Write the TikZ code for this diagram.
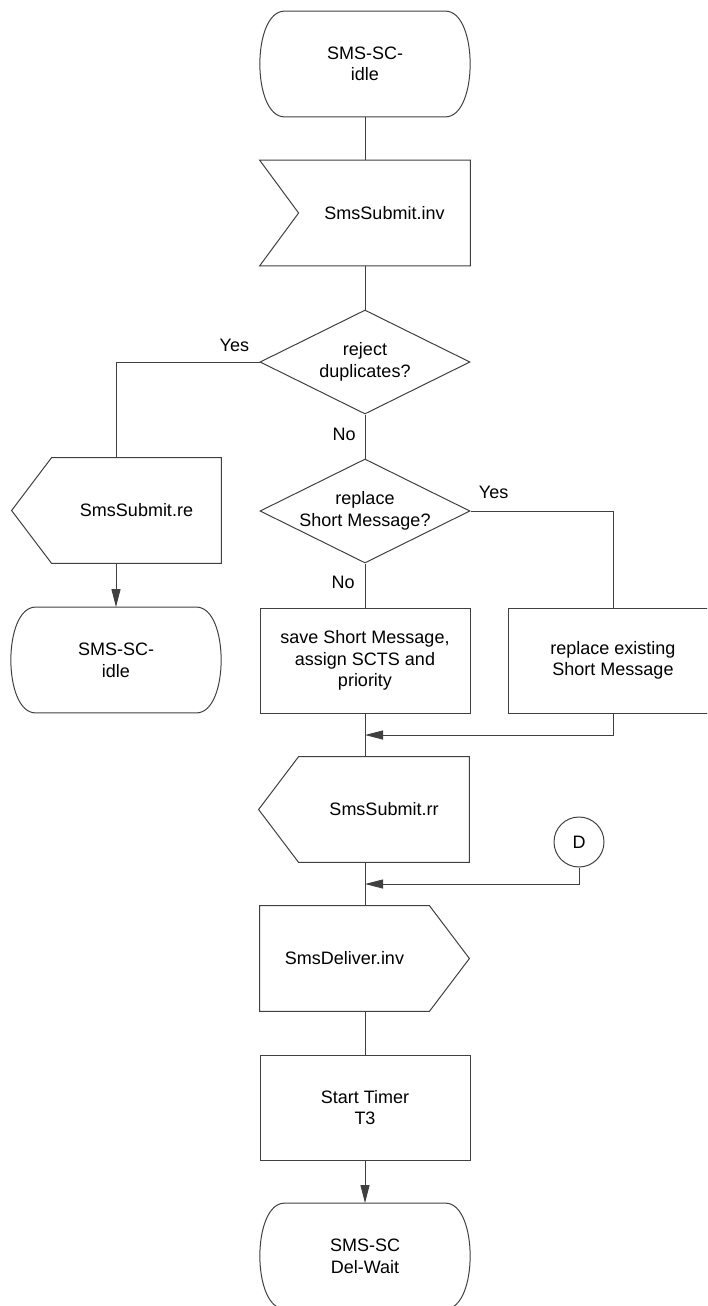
\documentclass[tikz,border=0pt]{standalone}
\usepackage{fontspec}
\setmainfont{Liberation Sans}
\usetikzlibrary{arrows.meta,shapes,positioning,calc}
\tikzstyle{txt}=[rectangle, minimum height=52.5pt, inner sep=0pt, align=center, font=\fontsize{9}{10.8}\selectfont]
\tikzstyle{box}=[txt, draw=black!75, line width=0.5pt, minimum width=105pt]
\tikzstyle{dec}=[diamond, aspect=2, draw=black!75, line width=0.5pt, minimum width=105pt, minimum height=52pt, inner sep=0pt, align=center, font=\fontsize{9}{10.8}\selectfont]
\tikzstyle{lbl}=[inner sep=0pt, font=\fontsize{9}{10.8}\selectfont]
\tikzstyle{con}=[draw=black!75, line width=0.5pt]
\tikzstyle{arr}=[con, -{Triangle[length=9pt,width=4.5pt]}]
\newcommand{\stateoutline}[1]{\draw[con]([xshift=12.5pt]#1.north west)--([xshift=-12.5pt]#1.north east) .. controls +(16.5pt,0) and +(16.5pt,0) .. ([xshift=-12.5pt]#1.south east)--([xshift=12.5pt]#1.south west) .. controls +(-16.5pt,0) and +(-16.5pt,0) .. ([xshift=12.5pt]#1.north west);}
\newcommand{\sigin}[1]{\draw[con]([xshift=-19.5pt]#1.north west)--(#1.north east)--(#1.south east)--([xshift=-19.5pt]#1.south west)--(#1.west)--cycle;}
\newcommand{\sigoutl}[1]{\draw[con](#1.north west)--(#1.north east)--(#1.south east)--(#1.south west)--([xshift=-20pt]#1.west)--cycle;}
\newcommand{\sigoutr}[1]{\draw[con](#1.north west)--(#1.north east)--([xshift=20pt]#1.east)--(#1.south east)--(#1.south west)--cycle;}

\begin{document}
\begin{tikzpicture}[x=0.5pt,y=-0.5pt]
		\useasboundingbox(0,0)rectangle(707,1306);
		\clip(0,0)rectangle(707,1306);
		\node[txt, minimum width=105pt](idle)at(365,64){SMS-SC-\\idle};
		\node[txt, minimum width=85.5pt](inv)at(384.5,213){SmsSubmit.inv};
		\node[dec](dup)at(365,362){reject\\duplicates?};
		\node[txt, minimum width=84.5pt](re)at(136.5,510.5){SmsSubmit.re};
		\node[txt, minimum width=105pt](idleb)at(116,660){SMS-SC-\\idle};
		\node[dec](rep)at(365,511){replace\\Short Message?};
		\node[box](save)at(365,660.5){save Short Message,\\assign SCTS and\\priority};
		\node[box](repl)at(613,660.5){replace existing\\Short Message};
		\node[txt, minimum width=85pt](rr)at(384,809.5){SmsSubmit.rr};
		\node[circle, draw=black!75, line width=0.5pt, minimum size=25pt, inner sep=0pt, font=\fontsize{9}{10.8}\selectfont](D)at(579,842){D};
		\node[txt, minimum width=84.5pt](del)at(344.5,958.5){SmsDeliver.inv};
		\node[box](timer)at(365,1107.5){Start Timer\\T3};
		\node[txt, minimum width=105pt](wait)at(365,1256){SMS-SC\\Del-Wait};
		\stateoutline{idle}
		\stateoutline{idleb}
		\stateoutline{wait}
		\sigin{inv}
		\sigoutl{re}
		\sigoutl{rr}
		\sigoutr{del}
		\node[lbl, above left=5pt and 5pt of dup.west](yes1){Yes};
		\node[lbl, below left=6.5pt and 4.5pt of dup.south](no1){No};
		\node[lbl, above right=6pt and 4pt of rep.east](yes2){Yes};
		\node[lbl, below left=6pt and 5pt of rep.south](no2){No};
		\coordinate(m1)at(365,735);
		\coordinate(m2)at(365,884);
		\draw[con](idle)--(idle|-inv.north);
		\draw[con](inv.south-|dup)--(dup);
		\draw[con](dup)--(rep);
		\draw[con](dup.west)-|(idleb|-re.north);
		\draw[arr](idleb|-re.south)--(idleb);
		\draw[con](rep)--(save);
		\draw[con](rep.east)-|(repl);
		\draw[arr](repl)|-(m1);
		\draw[con](save)--(save|-rr.north);
		\draw[con](save|-rr.south)--(save|-del.north);
		\draw[arr](D)|-(m2);
		\draw[con](save|-del.south)--(timer);
		\draw[arr](timer)--(wait);
\end{tikzpicture}
\end{document}
